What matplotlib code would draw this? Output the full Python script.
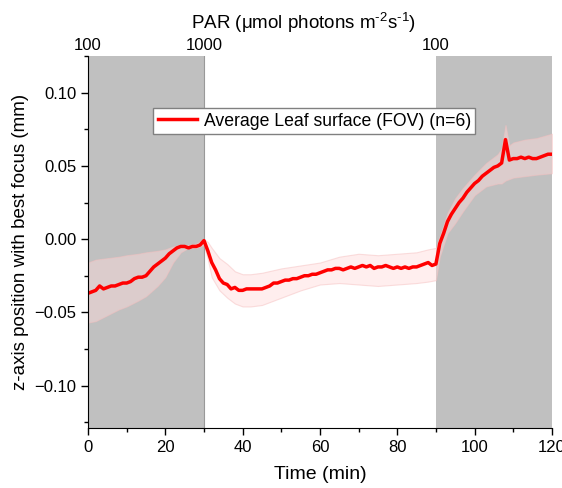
import matplotlib

matplotlib.use('Agg')
import matplotlib.pyplot as plt
import numpy as np
from matplotlib.ticker import MultipleLocator

plt.rcParams['font.family'] = ['Liberation Sans', 'DejaVu Sans']
plt.rcParams['mathtext.fontset'] = 'custom'
plt.rcParams['mathtext.rm'] = 'Liberation Sans'
plt.rcParams['mathtext.it'] = 'Liberation Sans:italic'

# mean z position (mm), one value per minute
t = np.arange(0, 121)
z_mean = [-0.037, -0.036, -0.035, -0.032, -0.034, -0.033, -0.032, -0.032, -0.031, -0.030,
          -0.030, -0.029, -0.027, -0.026, -0.026, -0.025, -0.022, -0.019, -0.017, -0.015,
          -0.013, -0.010, -0.008, -0.006, -0.005, -0.005, -0.006, -0.005, -0.005, -0.004,
          -0.001, -0.008, -0.016, -0.021, -0.027, -0.030, -0.031, -0.034, -0.033, -0.035,
          -0.035, -0.034, -0.034, -0.034, -0.034, -0.034, -0.033, -0.032, -0.030, -0.030,
          -0.029, -0.028, -0.028, -0.027, -0.027, -0.026, -0.025, -0.025, -0.024, -0.024,
          -0.023, -0.022, -0.021, -0.021, -0.020, -0.020, -0.021, -0.020, -0.019, -0.020,
          -0.019, -0.018, -0.019, -0.018, -0.020, -0.019, -0.019, -0.018, -0.019, -0.020,
          -0.019, -0.020, -0.019, -0.020, -0.019, -0.019, -0.018, -0.017, -0.016, -0.018,
          -0.017, -0.003, 0.004, 0.012, 0.017, 0.021, 0.025, 0.028, 0.032, 0.035,
          0.038, 0.040, 0.043, 0.045, 0.047, 0.049, 0.050, 0.052, 0.068, 0.054,
          0.055, 0.055, 0.056, 0.055, 0.056, 0.055, 0.055, 0.056, 0.057, 0.058,
          0.058]

# spread band
t_band = [0, 2, 5, 8, 10, 13, 15, 18, 20, 22, 24, 26, 28, 30, 31, 32, 34, 36, 38, 40,
          42, 45, 50, 55, 60, 65, 70, 75, 80, 85, 88, 90, 91, 93, 95, 97, 100, 103, 106,
          107, 108, 109, 110, 113, 116, 120]
z_upper = [-0.016, -0.014, -0.013, -0.012, -0.011, -0.010, -0.009, -0.008, -0.007, -0.005,
           -0.004, -0.004, -0.003, 0.000, -0.002, -0.006, -0.013, -0.017, -0.022, -0.024,
           -0.024, -0.023, -0.020, -0.018, -0.016, -0.012, -0.010, -0.011, -0.010, -0.009,
           -0.007, -0.006, 0.002, 0.018, 0.028, 0.035, 0.044, 0.052, 0.058,
           0.062, 0.078, 0.064, 0.066, 0.068, 0.069, 0.072]
z_lower = [-0.057, -0.056, -0.052, -0.048, -0.046, -0.042, -0.039, -0.032, -0.026, -0.016,
           -0.009, -0.006, -0.006, -0.004, -0.014, -0.026, -0.035, -0.040, -0.044, -0.046,
           -0.046, -0.045, -0.040, -0.035, -0.031, -0.030, -0.031, -0.032, -0.031, -0.030,
           -0.029, -0.028, -0.012, 0.004, 0.011, 0.019, 0.030, 0.036, 0.038,
           0.038, 0.040, 0.041, 0.042, 0.043, 0.044, 0.045]

low_light = [(0, 30), (90, 120)]
par_pos = [0, 30, 90]
par_labels = ['100', '1000', '100']

fig = plt.figure(figsize=(5.62, 4.88), dpi=100)
ax = fig.add_axes([0.1566, 0.123, 0.8254, 0.762])

for a, b in low_light:
    ax.axvspan(a, b, color='#c0c0c0', lw=0, zorder=0)
ax.axvline(30, color='#999999', lw=0.8, zorder=0.5)

ax.fill_between(t_band, z_lower, z_upper, facecolor=(1, 0.86, 0.86, 0.45),
                edgecolor=(0.96, 0.75, 0.75, 0.5), lw=0.8, zorder=1)
ax.plot(t, z_mean, color='red', lw=2.5, label='Average Leaf surface (FOV) (n=6)', zorder=2)

ax.set_xlim(0, 120)
ax.set_ylim(-0.129, 0.125)
ax.xaxis.set_major_locator(MultipleLocator(20))
ax.xaxis.set_minor_locator(MultipleLocator(10))
ax.yaxis.set_major_locator(MultipleLocator(0.05))
ax.yaxis.set_minor_locator(MultipleLocator(0.025))
ax.yaxis.set_major_formatter(lambda v, p: f"{v:.2f}".replace('-', '\u2212'))
ax.tick_params(labelsize=12, length=5, width=1)
ax.tick_params(which='minor', length=3, width=1)
for s in ['top', 'right']:
    ax.spines[s].set_visible(False)

ax.set_xlabel('Time (min)', fontsize=14, labelpad=8)
ax.set_ylabel('z-axis position with best focus (mm)', fontsize=13.5)

top = ax.secondary_xaxis('top')
top.set_xticks(par_pos, par_labels)
top.tick_params(length=0, labelsize=12, pad=2)
top.spines['top'].set_visible(False)
fig.text(0.54, 0.953, 'PAR (\u03bcmol photons m$^{\\text{-2}}$s$^{\\text{-1}}$)',
         fontsize=13.5, ha='center', va='center')

ax.legend(loc='upper center', bbox_to_anchor=(0.488, 0.86), fontsize=12.7, frameon=True,
          fancybox=False, edgecolor='#808080', framealpha=1, handlelength=2.2,
          borderpad=0.25, handletextpad=0.4, borderaxespad=0)

fig.savefig('out.png', dpi=100)
